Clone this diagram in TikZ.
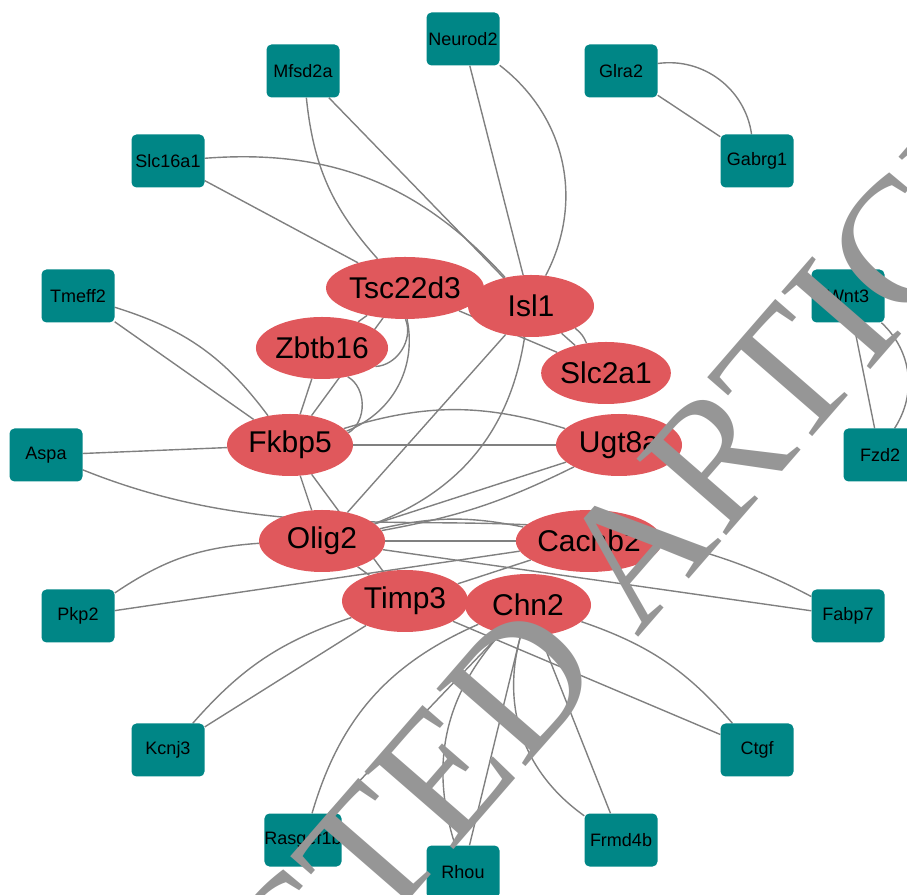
\documentclass[tikz,border=0pt]{standalone}
\usepackage{fontspec}
\setmainfont{Liberation Sans}
\newfontfamily\stampfont{Liberation Serif}
\usetikzlibrary{shapes.geometric,backgrounds}
\definecolor{genecyan}{RGB}{0,134,134}
\definecolor{hubred}{RGB}{224,88,92}
\definecolor{edgegray}{RGB}{128,128,128}
\definecolor{stampgray}{RGB}{150,150,150}
\tikzset{
  gene/.style={rectangle, rounded corners=5pt, fill=genecyan, minimum width=73pt, minimum height=53pt, inner sep=0pt, font=\fontsize{18}{20}\selectfont},
  hub/.style={ellipse, fill=hubred, minimum width=126pt, minimum height=62pt, inner sep=0pt, font=\fontsize{30}{32}\selectfont},
  link/.style={draw=edgegray, line width=1.4pt},
  stamp/.style={text=stampgray, font=\stampfont\fontsize{180}{180}\selectfont, inner sep=0pt}
}

\begin{document}
\begin{tikzpicture}[x=1pt,y=1pt]
  \useasboundingbox (0,0) rectangle (907,894);
  \clip (0,0) rectangle (907,894);

  \node[gene] (neurod2) at (463,855) {Neurod2};
  \node[gene] (mfsd2a) at (303,823) {Mfsd2a};
  \node[gene] (glra2) at (621,823) {Glra2};
  \node[gene] (slc16a1) at (168,733) {Slc16a1};
  \node[gene] (gabrg1) at (757,733) {Gabrg1};
  \node[gene] (tmeff2) at (78,598) {Tmeff2};
  \node[gene] (wnt3) at (848,598) {Wnt3};
  \node[gene] (aspa) at (46,439) {Aspa};
  \node[gene] (fzd2) at (880,439) {Fzd2};
  \node[gene] (pkp2) at (78,278) {Pkp2};
  \node[gene] (fabp7) at (848,278) {Fabp7};
  \node[gene] (kcnj3) at (168,144) {Kcnj3};
  \node[gene] (ctgf) at (757,144) {Ctgf};
  \node[gene] (rasgef1b) at (303,54) {Rasgef1b};
  \node[gene] (frmd4b) at (621,54) {Frmd4b};
  \node[gene] (rhou) at (463,22) {Rhou};

  \node[hub] (tsc22d3) at (405,606) {Tsc22d3};
  \node[hub] (isl1) at (531,588) {Isl1};
  \node[hub] (zbtb16) at (322,546) {Zbtb16};
  \node[hub] (slc2a1) at (606,521) {Slc2a1};
  \node[hub] (fkbp5) at (290,449) {Fkbp5};
  \node[hub] (ugt8a) at (619,449) {Ugt8a};
  \node[hub] (olig2) at (322,353) {Olig2};
  \node[hub] (cacnb2) at (589,353) {Cacnb2};
  \node[hub] (timp3) at (405,293) {Timp3};
  \node[hub] (chn2) at (528,289) {Chn2};

  \begin{scope}[on background layer]
    \draw[link] (neurod2) -- (isl1);
    \draw[link] (neurod2) to[bend left=40] (isl1);
    \draw[link] (mfsd2a) to[bend right=18] (tsc22d3);
    \draw[link] (mfsd2a) -- (isl1);
    \draw[link] (slc16a1) to[bend left=26] (isl1);
    \draw[link] (slc16a1) -- (tsc22d3);
    \draw[link] (glra2) -- (gabrg1);
    \draw[link] (glra2) to[bend left=45] (gabrg1);
    \draw[link] (wnt3) -- (fzd2);
    \draw[link] (wnt3) to[bend left=40] (fzd2);
    \draw[link] (tmeff2) to[bend left=18] (fkbp5);
    \draw[link] (tmeff2) -- (fkbp5);
    \draw[link] (aspa) -- (fkbp5);
    \draw[link] (aspa) to[out=-22,in=152] (fabp7);
    \draw[link] (pkp2) to[bend left=15] (olig2);
    \draw[link] (pkp2) -- (cacnb2);
    \draw[link] (kcnj3) to[bend left=15] (timp3);
    \draw[link] (kcnj3) -- (timp3);
    \draw[link] (rasgef1b) -- (chn2);
    \draw[link] (rasgef1b) to[bend left=25] (chn2);
    \draw[link] (ctgf) -- (timp3);
    \draw[link] (ctgf) to[bend right=15] (chn2);
    \draw[link] (olig2) -- (fabp7);
    \draw[link] (chn2) -- (rhou);
    \draw[link] (chn2) to[bend right=30] (rhou);
    \draw[link] (chn2) -- (frmd4b);
    \draw[link] (chn2) to[bend right=35] (frmd4b);
    \draw[link] (tsc22d3) -- (zbtb16);
    \draw[link] (tsc22d3) -- (fkbp5);
    \draw[link] (zbtb16) -- (fkbp5);
    \draw[link] (zbtb16) to[bend left=60] (fkbp5);
    \draw[link] (zbtb16) to[bend right=55] (tsc22d3);
    \draw[link] (tsc22d3) to[bend left=40] (fkbp5);
    \draw[link] (tsc22d3) -- (slc2a1);
    \draw[link] (isl1) -- (slc2a1);
    \draw[link] (isl1) to[bend left=15] (slc2a1);
    \draw[link] (isl1) -- (olig2);
    \draw[link] (isl1) to[bend left=30] (olig2);
    \draw[link] (fkbp5) -- (ugt8a);
    \draw[link] (fkbp5) to[bend left=17] (ugt8a);
    \draw[link] (olig2) -- (ugt8a);
    \draw[link] (olig2) to[bend right=8] (ugt8a);
    \draw[link] (fkbp5) -- (olig2);
    \draw[link] (fkbp5) -- (timp3);
    \draw[link] (olig2) -- (timp3);
    \draw[link] (olig2) -- (cacnb2);
    \draw[link] (olig2) to[bend left=12] (cacnb2);
    \draw[link] (cacnb2) -- (timp3);
  \end{scope}

  \node[stamp, rotate=49] (retracted) at (476,160) {RETRACTED ARTICLE};
\end{tikzpicture}
\end{document}
